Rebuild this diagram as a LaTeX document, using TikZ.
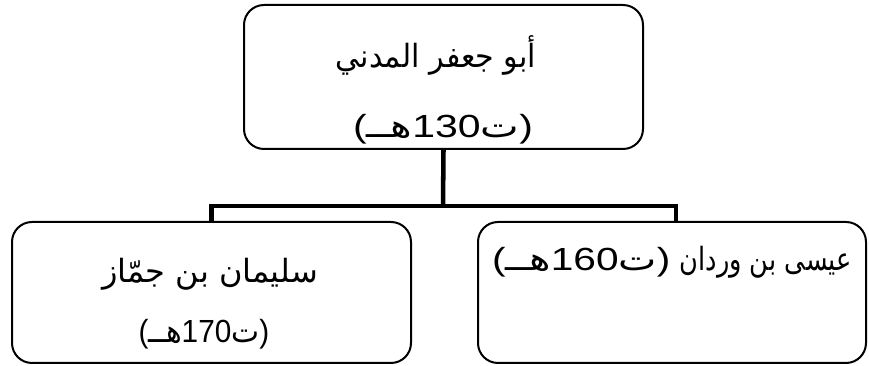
\documentclass[tikz,border=0pt]{standalone}
\usepackage{fontspec}
\setmainfont{Liberation Sans}
\newfontfamily\arabicfont[Script=Arabic]{DejaVu Sans}
\TeXXeTstate=1
\newcommand{\hijri}[1]{(\arabicfont هــ\rmfamily#1\arabicfont ت\rmfamily)}
\begin{document}
\begin{tikzpicture}[x=0.75pt,y=-0.75pt,
  box/.style={draw, line width=1.5pt, rounded corners=15pt, inner sep=0pt},
  link/.style={line width=3.4pt, line join=miter},
  txt/.style={anchor=base, inner sep=0pt, font=\fontsize{24}{28}\selectfont}]
\useasboundingbox (0,0) rectangle (869,366);
\node[box, minimum width=299.25pt, minimum height=108pt] (top) at (443.5,77) {};
\node[box, minimum width=299.25pt, minimum height=105.75pt] (left) at (211.5,292.5) {};
\node[box, minimum width=291pt, minimum height=105.75pt] (right) at (672,292.5) {};
\coordinate (j) at (443,206);
\draw[link] (top.south) -- (j);
\draw[link] (left.north) |- (j) -| ([xshift=3pt]right.north);
\node[txt] (t1) at (436,68) {\scalebox{0.94}[1]{\arabicfont\beginR أبو جعفر المدني\endR}};
\node[txt] (t2) at (443,138) {\scalebox{1.28}[1]{\hijri{130}}};
\node[txt] (l1) at (210,283) {\arabicfont\beginR سليمان بن جمّاز\endR};
\node[txt] (l2) at (204,343) {\scalebox{0.93}[1]{\hijri{170}}};
\node[txt] (r1) at (672,271) {\scalebox{1.27}[1]{\hijri{160}}\hspace{7pt}\scalebox{0.8}[1]{\arabicfont\beginR عيسى بن وردان\endR}};
\end{tikzpicture}
\end{document}
